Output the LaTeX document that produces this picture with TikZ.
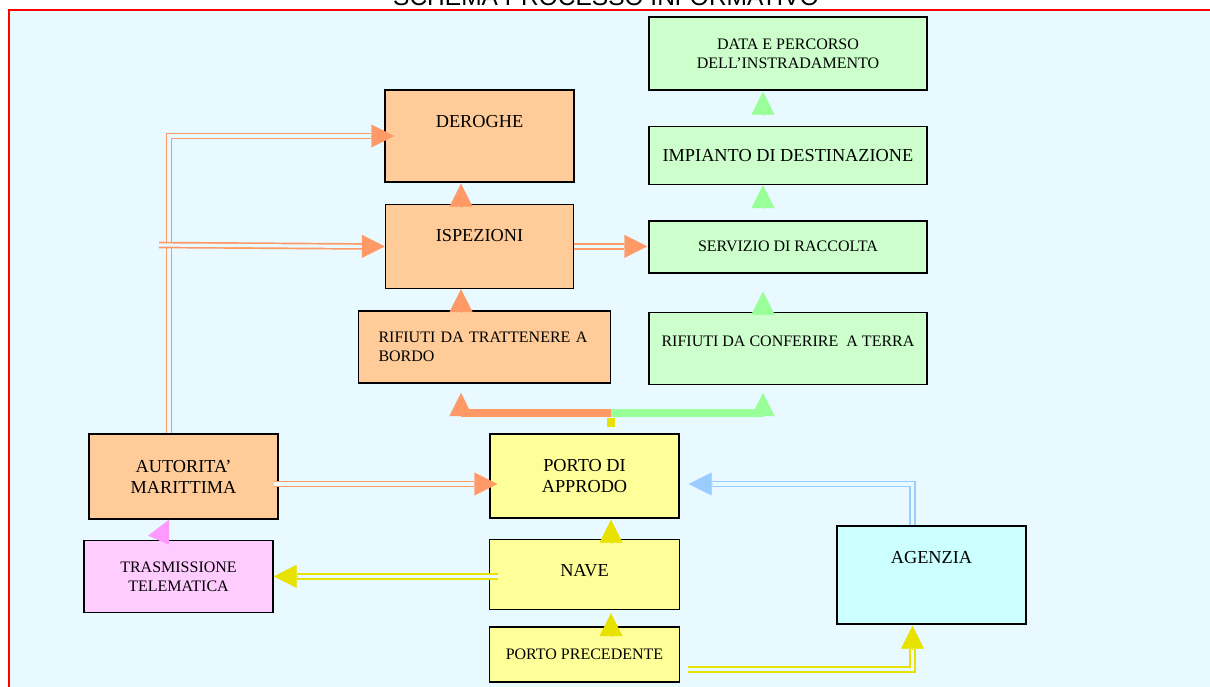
\documentclass[tikz,border=0pt]{standalone}
\usepackage{fontspec}
\setmainfont{Liberation Serif}
\newfontfamily\titolofont{Liberation Sans}
\usepackage{tikz}
\usetikzlibrary{arrows.meta, positioning}

\definecolor{sfondo}{RGB}{232,249,255}
\definecolor{arancioF}{RGB}{255,153,102}
\definecolor{arancioB}{RGB}{255,204,153}
\definecolor{verdeF}{RGB}{153,255,153}
\definecolor{verdeB}{RGB}{204,255,204}
\definecolor{gialloF}{RGB}{232,226,0}
\definecolor{gialloB}{RGB}{255,255,153}
\definecolor{rosaF}{RGB}{255,153,255}
\definecolor{rosaB}{RGB}{255,204,255}
\definecolor{azzurroF}{RGB}{153,204,255}
\definecolor{cianoB}{RGB}{204,255,255}

\tikzstyle{boxarancio} = [rectangle, minimum width=189pt, inner sep=0pt, text centered, draw=black, line width=1.4pt, fill=arancioB]
\tikzstyle{boxverde} = [rectangle, minimum width=278pt, inner sep=0pt, text centered, draw=black, line width=1.4pt, fill=verdeB]
\tikzstyle{boxgiallo} = [rectangle, minimum width=189pt, inner sep=0pt, text centered, draw=black, line width=1.4pt, fill=gialloB]
\tikzstyle{boxrosa} = [rectangle, minimum width=189pt, inner sep=0pt, text centered, draw=black, line width=1.4pt, fill=rosaB]
\tikzstyle{boxciano} = [rectangle, minimum width=189pt, inner sep=0pt, text centered, draw=black, line width=1.4pt, fill=cianoB]
\tikzstyle{grande} = [font=\fontsize{18.3}{21}\selectfont]
\tikzstyle{piccolo} = [font=\fontsize{16}{19}\selectfont]
\tikzstyle{filo} = [line width=1.7pt, double=sfondo, double distance=3.2pt]
\tikzstyle{punta} = [line width=0.4pt, -{Triangle[length=23pt,width=23pt]}]
\tikzstyle{barra} = [line width=8pt]

\begin{document}
\begin{tikzpicture}[x=1pt, y=1pt]
    \useasboundingbox (0,0) rectangle (1210,-686);
    % cornice e titolo
    \draw[red, line width=2pt, fill=sfondo] (9,-10) rectangle (1230,-700);
    \node (titolo) [anchor=base, font=\titolofont\fontsize{24.5}{26}\selectfont] at (606,-5.5) {SCHEMA PROCESSO INFORMATIVO};

    \coordinate (colA) at (461,0);
    \coordinate (colB) at (763,0);
    \coordinate (colC) at (611,0);
    \coordinate (colD) at (912.5,0);
    \coordinate (colE) at (169,0);
    \coordinate (inizio) at (159,-245);
    \coordinate (rigaP) at (0,-484);
    \coordinate (nodo) at (611,-413);

    % colonna verde
    \node (data) [boxverde, minimum height=73pt, piccolo, align=center] at (788,-53.5) {DATA E PERCORSO\\DELL’INSTRADAMENTO};
    \node (imp) [boxverde, minimum height=58pt, grande, below=35pt of data] {IMPIANTO DI DESTINAZIONE};
    \node (serv) [boxverde, minimum height=52pt, piccolo, below=35pt of imp] {SERVIZIO DI RACCOLTA};
    \node (rconf) [boxverde, minimum height=72pt, piccolo, text depth=14pt, below=38pt of serv] {RIFIUTI DA CONFERIRE~ A TERRA};

    % colonna arancio
    \node (derog) [boxarancio, minimum height=92pt, grande, text depth=30pt] at (479.5,-136) {DEROGHE};
    \node (isp) [boxarancio, minimum width=188pt, minimum height=84pt, grande, text depth=22pt, below=21pt of derog] {ISPEZIONI};
    \node (rtrat) [boxarancio, minimum width=252pt, minimum height=72pt, piccolo, text width=212pt, align=left, below=21pt of isp, xshift=5pt] {RIFIUTI DA TRATTENERE A\\BORDO};

    % parte bassa
    \node (auto) [boxarancio, minimum height=85pt, grande, align=center] at (183.5,-476.5) {AUTORITA’\\MARITTIMA};
    \node (tras) [boxrosa, minimum height=72pt, piccolo, align=center, below=20pt of auto, xshift=-5pt] {TRASMISSIONE\\TELEMATICA};
    \node (porto) [boxgiallo, minimum height=84pt, grande, align=center] at (584.5,-476) {PORTO DI\\APPRODO};
    \node (nave) [boxgiallo, minimum width=190pt, minimum height=70pt, grande, text depth=8pt, below=20pt of porto] {NAVE};
    \node (prec) [boxgiallo, minimum width=190pt, minimum height=55pt, piccolo, below=16pt of nave] {PORTO PRECEDENTE};
    \node (agen) [boxciano, minimum height=98pt, grande, text depth=36pt] at (931.5,-575) {AGENZIA};

    % frecce arancio
    \draw [filo, arancioF] (auto.north -| colE) |- ([xshift=-13pt]derog.west);
    \draw [punta, arancioF] ([xshift=-13pt]derog.west) -- ([xshift=10pt]derog.west);
    \draw [filo, arancioF] (inizio) -- ([xshift=-23pt]isp.west);
    \draw [punta, arancioF] ([xshift=-23pt]isp.west) -- (isp.west);
    \draw [filo, arancioF] (isp.east) -- ([xshift=-24pt]serv.west |- isp.east);
    \draw [punta, arancioF] ([xshift=-24pt]serv.west |- isp.east) -- ([xshift=-1pt]serv.west |- isp.east);
    \draw [punta, arancioF] ([yshift=-24pt]derog.south -| colA) -- ([yshift=-1pt]derog.south -| colA);
    \draw [punta, arancioF] ([yshift=-23pt]isp.south -| colA) -- (isp.south -| colA);
    \draw [filo, arancioF] ([xshift=-5pt]auto.east |- rigaP) -- ([xshift=-15pt]porto.west |- rigaP);
    \draw [punta, arancioF] ([xshift=-15pt]porto.west |- rigaP) -- ([xshift=8pt]porto.west |- rigaP);

    % frecce verdi
    \draw [punta, verdeF] ([yshift=-24pt]data.south -| colB) -- ([yshift=-1pt]data.south -| colB);
    \draw [punta, verdeF] ([yshift=-23pt]imp.south -| colB) -- (imp.south -| colB);
    \draw [punta, verdeF] ([yshift=-3pt]rconf.north -| colB) -- ([yshift=20pt]rconf.north -| colB);

    % smistamento
    \draw [barra, gialloF, shorten <=6pt, shorten >=5pt] (porto.north -| nodo) -- (nodo);
    \draw [barra, arancioF] (nodo) -- (nodo -| colA);
    \draw [barra, verdeF] (nodo) -- (nodo -| colB);
    \draw [punta, arancioF] ([yshift=-3pt]nodo -| colA) -- ([yshift=20pt]nodo -| colA);
    \draw [punta, verdeF] ([yshift=-3pt]nodo -| colB) -- ([yshift=20pt]nodo -| colB);

    % frecce gialle
    \draw [punta, gialloF] ([yshift=-24pt]porto.south -| colC) -- ([yshift=-1pt]porto.south -| colC);
    \draw [punta, gialloF] ([yshift=-26pt]nave.south -| colC) -- ([yshift=-3pt]nave.south -| colC);
    \draw [filo, gialloF] ([xshift=9pt]nave.west |- tras.east) -- ([xshift=23pt]tras.east);
    \draw [punta, gialloF] ([xshift=23pt]tras.east) -- (tras.east);
    \draw [filo, gialloF] ([xshift=8pt,yshift=-15pt]prec.east) -| ([yshift=-24pt]agen.south -| colD);
    \draw [punta, gialloF] ([yshift=-24pt]agen.south -| colD) -- ([yshift=-1pt]agen.south -| colD);

    % freccia azzurra
    \draw [filo, azzurroF] (agen.north -| colD) |- ([xshift=32pt]porto.east |- rigaP);
    \draw [punta, azzurroF] ([xshift=32pt]porto.east |- rigaP) -- ([xshift=9pt]porto.east |- rigaP);

    % freccia rosa
    \fill [rosaF] (auto.south -| colE) -- ++(-21pt,-16pt) -- ++(21pt,-9pt) -- cycle;
\end{tikzpicture}
\end{document}
